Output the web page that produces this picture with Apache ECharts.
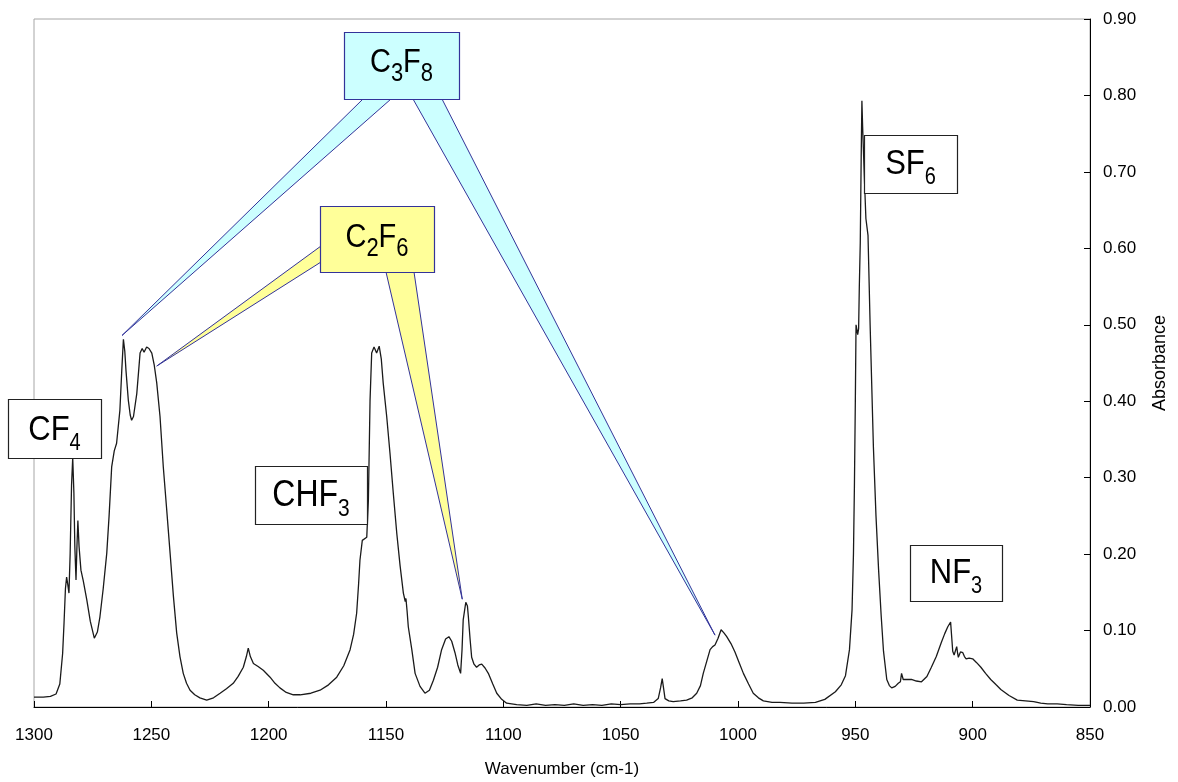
<!DOCTYPE html>
<html><head><meta charset="utf-8">
<script src="https://cdn.jsdelivr.net/npm/echarts@6/dist/echarts.min.js"></script>
<style>html,body{margin:0;padding:0;background:#fff}#c{width:1178px;height:782px}</style>
</head><body><div id="c"></div>
<script>
const wavenumber = [1300,1296,1293,1290.6,1289,1287.8,1287.2,1286.6,1286.1,1285.6,1285.1,1284.6,1284.0,1283.5,1283.0,1282.6,1282.1,1281.7,1281.3,1280.8,1280.0,1279.0,1277.5,1276,1274.3,1273,1271.9,1270.5,1269.0,1268,1266.9,1265.8,1264.8,1263.4,1262.6,1261.9,1261.3,1260.8,1259.8,1259.0,1258.4,1257.6,1256.2,1255.4,1254.8,1253.9,1253.1,1252.0,1251,1249.8,1248.8,1247.7,1246.3,1244.9,1243.5,1242.0,1240.6,1239.2,1237.8,1236.4,1235,1233.5,1231.5,1229.3,1226.4,1223.5,1220.7,1218,1215.1,1213,1210.8,1209.5,1208.7,1207.8,1206.5,1204.5,1202.3,1199.4,1197.3,1195.2,1192.5,1189.5,1186.6,1182,1178.1,1174.5,1171.0,1168,1165.3,1163.8,1162.5,1161.7,1161.1,1160.1,1158.2,1157.5,1156.8,1156.1,1155.1,1154.0,1152.9,1152.0,1151.2,1149.7,1148.3,1146.9,1145.4,1144,1142.6,1141.8,1141.5,1141.0,1140.5,1139,1137.6,1135.5,1133.4,1131.5,1129.8,1128,1126.3,1124.6,1123.2,1122,1120.6,1119.4,1118.2,1117.6,1117.1,1116.0,1115.3,1114.9,1114.2,1113.5,1112.5,1111.4,1110.3,1109.2,1107.8,1106.4,1104.5,1102.8,1100.7,1098.6,1094.3,1090,1086,1082,1078,1074,1070,1066,1062,1058,1054,1050,1046,1042,1038.9,1036,1034.0,1033.0,1032.3,1031.6,1031.1,1029.5,1027.6,1024.5,1021.9,1019.5,1017.6,1016,1014.8,1013.3,1011.9,1010.8,1009.8,1008.5,1007.2,1006,1004.8,1003,1001.3,999.5,997.7,995.5,993.5,991.3,989.2,985.5,982.1,977,972,967,963,958.5,956,954.2,952.5,951.4,950.8,950.4,950.0,949.7,949.3,949.0,948.6,948.3,947.9,947.5,947.2,946.9,946.5,946.0,945.5,944.6,943.7,942.3,941.2,940.1,939,938.0,936.6,935.5,934.5,933,931.7,930.8,930.3,929.6,928,926.1,924,921.8,919.5,917.6,915.5,913.4,911.9,910.6,909.4,908.9,908.5,907.9,907.5,906.8,906.4,906.1,905.2,904.2,903.5,902.8,901.5,900,898.3,896.5,894.5,892.3,890,888,884.5,881,877.5,874,871,868,864,860,855,850];
const absorbance = [0.013,0.013,0.014,0.017,0.030,0.07,0.11,0.155,0.17,0.16,0.149,0.2,0.29,0.326,0.28,0.21,0.166,0.21,0.244,0.21,0.179,0.165,0.14,0.112,0.090,0.098,0.118,0.155,0.201,0.25,0.314,0.335,0.345,0.388,0.44,0.481,0.465,0.44,0.401,0.382,0.375,0.380,0.410,0.440,0.463,0.469,0.464,0.471,0.469,0.463,0.448,0.424,0.38,0.314,0.26,0.201,0.145,0.097,0.066,0.044,0.031,0.022,0.016,0.012,0.009,0.012,0.018,0.024,0.031,0.040,0.052,0.066,0.077,0.066,0.057,0.053,0.048,0.039,0.031,0.025,0.019,0.016,0.016,0.018,0.022,0.029,0.039,0.054,0.075,0.095,0.123,0.16,0.192,0.218,0.222,0.271,0.401,0.463,0.471,0.463,0.472,0.455,0.424,0.38,0.332,0.28,0.227,0.185,0.149,0.138,0.142,0.125,0.105,0.075,0.044,0.027,0.018,0.022,0.035,0.052,0.075,0.089,0.092,0.086,0.071,0.055,0.044,0.075,0.114,0.137,0.132,0.118,0.09,0.065,0.056,0.052,0.055,0.056,0.051,0.044,0.030,0.018,0.010,0.005,0.003,0.002,0.004,0.002,0.003,0.002,0.004,0.002,0.003,0.002,0.004,0.003,0.004,0.004,0.005,0.006,0.011,0.025,0.037,0.022,0.011,0.008,0.007,0.008,0.009,0.012,0.018,0.028,0.044,0.060,0.075,0.079,0.081,0.09,0.101,0.097,0.092,0.083,0.072,0.058,0.044,0.030,0.018,0.012,0.008,0.006,0.006,0.005,0.005,0.006,0.010,0.020,0.029,0.041,0.075,0.127,0.2,0.287,0.40,0.500,0.498,0.487,0.495,0.55,0.607,0.72,0.793,0.76,0.724,0.68,0.639,0.617,0.500,0.340,0.25,0.180,0.12,0.073,0.036,0.028,0.025,0.027,0.031,0.033,0.044,0.036,0.036,0.036,0.034,0.033,0.040,0.052,0.066,0.084,0.096,0.105,0.111,0.09,0.073,0.068,0.068,0.079,0.070,0.065,0.072,0.071,0.066,0.063,0.064,0.063,0.058,0.052,0.044,0.036,0.029,0.023,0.015,0.009,0.008,0.007,0.005,0.004,0.004,0.003,0.002,0.002];
const xAxisName = 'Wavenumber (cm-1)';
const yAxisName = 'Absorbance';
// gas labels as [normal, subscript] pieces
const gasLabels = [
  [['C','3'],['F','8']],
  [['C','2'],['F','6']],
  [['CF','4']],
  [['CHF','3']],
  [['SF','6']],
  [['NF','3']]
];
// callout targets (wavenumber, absorbance)
const c3f8TargetW = [1262.5, 1009.8];
const c3f8TargetA = [0.486, 0.094];
const c2f6TargetW = [1247.7, 1117.5];
const c2f6TargetA = [0.446, 0.141];

const FONT = '"Liberation Sans", Arial, Helvetica, sans-serif';

const chart = echarts.init(document.getElementById('c'), null, {renderer: 'canvas'});
chart.setOption({
  animation: false,
  backgroundColor: '#ffffff',
  grid: {left: 34, right: 88, top: 19, bottom: 75, outerBoundsMode: 'none', containLabel: false,
    show: true, borderColor: '#a6a6a6', borderWidth: 1, backgroundColor: 'transparent'},
  xAxis: {
    type: 'value', min: 850, max: 1300, interval: 50, inverse: true,
    axisLine: {show: true, onZero: false, lineStyle: {color: '#000', width: 1}},
    axisTick: {show: true, inside: true, length: 6, lineStyle: {color: '#000'}},
    axisLabel: {fontSize: 17, color: '#000', margin: 20, fontFamily: FONT, formatter: v => String(v)},
    splitLine: {show: false},
    name: xAxisName, nameLocation: 'middle', nameGap: 54,
    nameTextStyle: {fontSize: 17, color: '#000', fontFamily: FONT}
  },
  yAxis: {
    type: 'value', position: 'right', min: 0, max: 0.9, interval: 0.1,
    axisLine: {show: true, lineStyle: {color: '#000', width: 1}},
    axisTick: {show: true, inside: true, length: 6, lineStyle: {color: '#000'}},
    axisLabel: {fontSize: 17, color: '#000', margin: 13, fontFamily: FONT, formatter: v => v.toFixed(2)},
    splitLine: {show: false},
    name: yAxisName, nameLocation: 'middle', nameGap: 61,
    nameTextStyle: {fontSize: 18, color: '#000', fontFamily: FONT}
  },
  series: [{
    type: 'line', showSymbol: false, silent: true,
    data: wavenumber.map((w, i) => [w, absorbance[i]]),
    lineStyle: {color: '#1a1a1a', width: 1.3}
  }]
});

const mctx = document.createElement('canvas').getContext('2d');
function textWidth(t, size) {
  mctx.font = size + 'px "Liberation Sans", Arial, sans-serif';
  return mctx.measureText(t).width;
}
// box with formula text: main size, sub size, vertical stretch, cap-centre offset
function labelBox(x, y, w, h, fill, stroke, pieces, big, small, sy, dy) {
  const parts = [];
  let total = 0;
  pieces.forEach(p => {
    const w1 = textWidth(p[0], big), w2 = textWidth(p[1], small);
    parts.push({t: p[0], size: big, off: total, sub: false}); total += w1;
    parts.push({t: p[1], size: small, off: total, sub: true}); total += w2;
  });
  const drop = 8;
  const children = parts.map(pt => ({
    type: 'text', z: 110,
    x: -total / 2 + pt.off,
    y: pt.sub ? (0.358 * big + drop - 0.3465 * small) : 0.0115 * big,
    style: {text: pt.t, fontSize: pt.size, fontFamily: FONT, fill: '#000', align: 'left', verticalAlign: 'middle'}
  }));
  return [
    {type: 'rect', z: 101, shape: {x: x + 0.5, y: y + 0.5, width: w, height: h},
     style: {fill: fill, stroke: stroke, lineWidth: 1.2}},
    {type: 'group', z: 110, x: x + w / 2, y: y + h / 2 + dy, scaleY: sy, children: children}
  ];
}
function wedge(b1, b2, tip, fill, stroke) {
  return {type: 'polygon', z: 100, shape: {points: [b1, b2, tip]},
    style: {fill: fill, stroke: stroke, lineWidth: 1}};
}
const P = (w, a) => chart.convertToPixel({gridIndex: 0}, [w, a]);
const cyan = '#ccffff', yellow = '#ffff99', navy = '#333399';
const els = [];
els.push(wedge([363, 99], [391, 99], P(c3f8TargetW[0], c3f8TargetA[0]), cyan, navy));
els.push(wedge([413, 99], [442, 99], P(c3f8TargetW[1], c3f8TargetA[1]), cyan, navy));
els.push(wedge([321, 246], [321, 262], P(c2f6TargetW[0], c2f6TargetA[0]), yellow, navy));
els.push(wedge([386, 272], [414, 272], P(c2f6TargetW[1], c2f6TargetA[1]), yellow, navy));
els.push(...labelBox(344, 32, 115, 67, cyan, navy, gasLabels[0], 29, 22, 1.15, -3.5));
els.push(...labelBox(320, 206, 114, 66, yellow, navy, gasLabels[1], 29, 22, 1.15, -2));
els.push(...labelBox(8, 399, 93, 59, '#fff', '#222', gasLabels[2], 31, 20, 1.15, 1));
els.push(...labelBox(255, 466, 112, 58, '#fff', '#222', gasLabels[3], 32, 21, 1.15, 0));
els.push(...labelBox(864, 135, 93, 58, '#fff', '#222', gasLabels[4], 31, 20, 1.15, 0));
els.push(...labelBox(910, 545, 92, 56, '#fff', '#222', gasLabels[5], 31, 20, 1.15, 0));
chart.setOption({graphic: {elements: els}});
</script></body></html>
